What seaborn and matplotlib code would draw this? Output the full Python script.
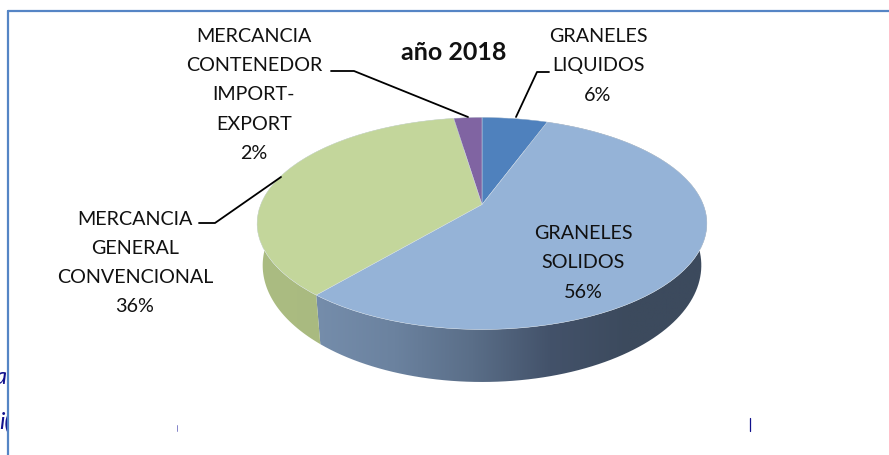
import numpy as np
import matplotlib
matplotlib.use("Agg")
import matplotlib.pyplot as plt
import seaborn as sns
from matplotlib.colors import LinearSegmentedColormap
from matplotlib.patches import Polygon
from matplotlib.transforms import Transform

# ── data ─────────────────────────────────────────────
categories = ["GRANELES\nLIQUIDOS", "GRANELES\nSOLIDOS",
              "MERCANCIA\nGENERAL\nCONVENCIONAL",
              "MERCANCIA\nCONTENEDOR\nIMPORT-\nEXPORT"]
shares = [5.6, 55.6, 36.4, 2.4]
title = "año 2018"

top_colors = ["#4F81BD", "#95B3D7", "#C3D69B", "#8064A2"]
side_colors = [["#3F6797", "#3F6797"],
               ["#758DAB", "#6B829F", "#5A6E88", "#43526A", "#3C4A5D", "#3C4A5D"],
               ["#ABBC82", "#A6B77C"],
               ["#665082", "#665082"]]

sns.set_theme(style="white")
plt.rcParams["font.family"] = ["Lato", "DejaVu Sans"]


# tilted disc: unit circle -> pixels, with the far side squeezed
class Tilt(Transform):
    input_dims = 2
    output_dims = 2
    is_separable = False

    def __init__(self, drop=0.0, sx=1.0, sy=1.0):
        super().__init__()
        self.drop, self.sx, self.sy = drop, sx, sy

    def transform_non_affine(self, values):
        values = np.asarray(values)
        x, y = values[:, 0], values[:, 1]
        w = 1 + 0.179 * y
        return np.column_stack([482 + 221.3 * self.sx * x / w,
                                205.5 - 102.6 * self.sy * y / w + self.drop])


fig = plt.figure(figsize=(8.89, 4.56), dpi=100)
ax = fig.add_axes([0, 0, 1, 1])

wedges, _ = ax.pie(shares, colors=sns.color_palette(top_colors), startangle=90,
                   counterclock=False,
                   wedgeprops={"edgecolor": "#D5DFE8", "linewidth": 0.3, "zorder": 3})
top = Tilt()
base = Tilt(drop=40, sx=0.975, sy=1.1)
for w in wedges:
    w.set_transform(top + ax.transData)

# side wall of every slice, shaded left to right
for w, stops in zip(wedges, side_colors):
    t = np.radians(np.linspace(w.theta1, w.theta2, 120))
    arc = np.column_stack([np.cos(t), np.sin(t)])
    outline = np.vstack([top.transform(arc), base.transform(arc)[::-1]])
    clip = Polygon(outline, closed=True, transform=ax.transData, fc="none", ec="none")
    ax.add_patch(clip)
    cmap = LinearSegmentedColormap.from_list("side", stops)
    im = ax.imshow(np.linspace(0, 1, 256)[None, :], cmap=cmap, aspect="auto", zorder=2,
                   extent=(outline[:, 0].min(), outline[:, 0].max(),
                           outline[:, 1].max(), outline[:, 1].min()))
    im.set_clip_path(clip)

ax.set_aspect("auto")
ax.set_xlim(0, 889)
ax.set_ylim(456, 0)
ax.axis("off")

# labels
label_xy = [(598, 66), (583, 263), (135, 263), (254, 95)]
for name, share, (x, y) in zip(categories, shares, label_xy):
    ax.text(x, y, f"{name}\n{int(share + 0.5)}%" if share > 3 else f"{name}\n{int(share)}%",
            ha="center", va="center", fontsize=14.2,
            linespacing=1.87, color="#111111", zorder=5)
ax.text(454, 52, title, ha="center", va="center", fontsize=18, fontweight="bold",
        color="#111111", zorder=5)

# leader lines
ax.plot([549, 537, 516], [73, 73, 118], color="black", lw=1.3, zorder=4)
ax.plot([331, 354, 468], [72, 72, 118], color="black", lw=1.3, zorder=4)
ax.plot([199, 215, 281], [224, 224, 178], color="black", lw=1.3, zorder=4)

# frame of the pasted picture and leftovers of the page behind it
ax.plot([7.5, 7.5], [456, 11.5], color="#5585C5", lw=1.6, zorder=6)
ax.plot([7.5, 889], [11.5, 11.5], color="#5585C5", lw=1.6, zorder=6)
ax.plot([750, 750], [419, 432], color="#10108C", lw=0.9, zorder=6)
ax.plot([177, 177], [426, 432], color="#7070C0", lw=0.6, zorder=6)
ax.text(-6, 378, "a", fontsize=17, style="italic", color="#10108C", va="center", zorder=4)
ax.text(-1, 422, "i(", fontsize=17, style="italic", color="#10108C", va="center", zorder=4)
ax.add_patch(plt.Rectangle((8, 360), 14, 90, fc="white", ec="none", zorder=4.5))

fig.savefig("out.png", dpi=100)
